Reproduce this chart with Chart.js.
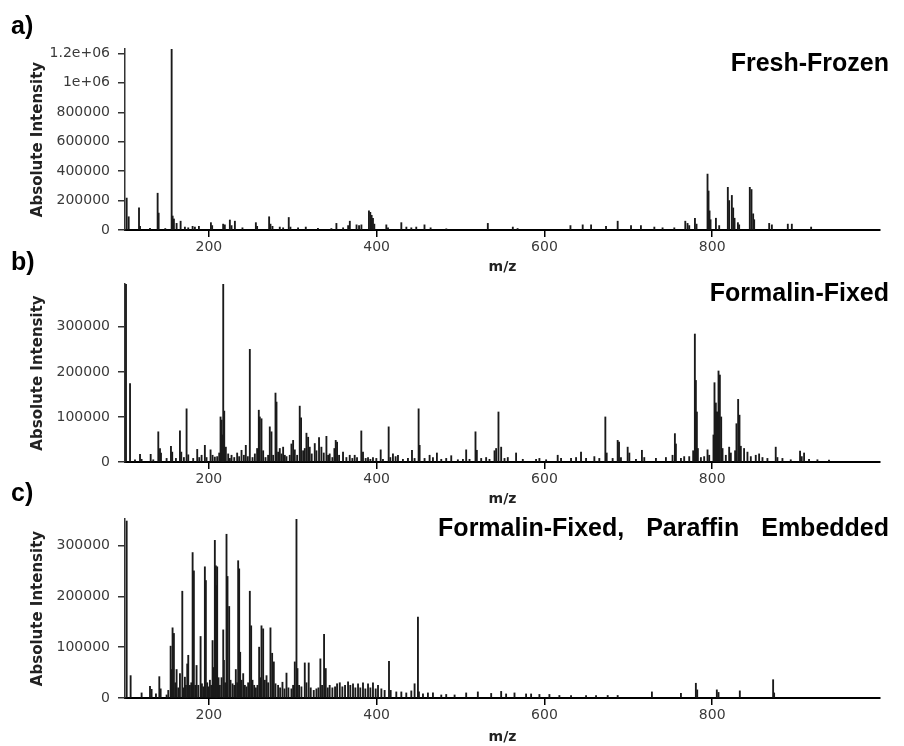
<!DOCTYPE html>
<html>
<head>
<meta charset="utf-8">
<script src="https://cdn.jsdelivr.net/npm/chart.js@4.4.1/dist/chart.umd.min.js"></script>
<style>
  body { margin: 0; background: #fff; }
  #wrap { position: relative; width: 904px; height: 746px; overflow: hidden; }
  canvas { position: absolute; left: 0; }
</style>
</head>
<body>
<div id="wrap">
  <canvas id="chartA" width="904" height="280" style="top:0px"></canvas>
  <canvas id="chartB" width="904" height="260" style="top:250px"></canvas>
  <canvas id="chartC" width="904" height="266" style="top:480px"></canvas>
</div>
<script>
// x axis ticks (m/z)
const xTicks = [200, 400, 600, 800];

// a) Fresh-Frozen
const mzA = [
  102, 104.4, 116.7, 117.9, 129.8, 138.9, 140.1, 148, 155.6, 156.8,
  158.3, 161.5, 166.3, 171.4, 175.4, 180.6, 183.3, 188.1, 202.4, 203.9,
  217, 219, 225, 227, 231, 240, 256, 257.5, 271.8, 273.4,
  275.8, 284.5, 288.5, 295.2, 297.2, 306.3, 315.5, 330, 346, 352,
  360, 366, 368, 376, 379, 381.8, 390.8, 392.4, 394, 395.6,
  397.2, 411.5, 413.5, 429.4, 435.4, 441.3, 447.2, 457, 464.3, 483,
  532.5, 562.3, 568, 631, 645.6, 655.6, 673.4, 687.3, 703.2, 715,
  731, 740.8, 754.8, 767.9, 770.6, 772.6, 779.4, 781.3, 794.4, 795.6,
  796.8, 798, 804.4, 808.3, 818.6, 820.2, 823.4, 825, 826.6, 830.6,
  832.1, 844.8, 846.8, 848.8, 850, 867.9, 871.1, 890.1, 894.9, 917.9
];
const intA = [
  217000, 90000, 150000, 25000, 12000, 250000, 115000, 10000, 1230000, 95000,
  75000, 45000, 60000, 20000, 15000, 25000, 20000, 25000, 50000, 30000,
  40000, 35000, 68000, 30000, 60000, 15000, 50000, 25000, 90000, 40000,
  25000, 20000, 15000, 85000, 20000, 15000, 20000, 12000, 10000, 45000,
  15000, 30000, 60000, 35000, 30000, 35000, 130000, 120000, 100000, 80000,
  40000, 35000, 15000, 50000, 20000, 15000, 20000, 35000, 15000, 8000,
  45000, 20000, 10000, 30000, 35000, 35000, 25000, 60000, 30000, 30000,
  20000, 15000, 15000, 60000, 45000, 30000, 80000, 40000, 380000, 265000,
  130000, 70000, 80000, 30000, 290000, 200000, 235000, 150000, 80000, 50000,
  35000, 290000, 275000, 110000, 70000, 45000, 35000, 40000, 40000, 20000
];
const yTicksA = [0, 200000, 400000, 600000, 800000, 1000000, 1200000];
const yLabelsA = ['0', '200000', '400000', '600000', '800000', '1e+06', '1.2e+06'];

// b) Formalin-Fixed
const mzB = [
  101.2, 106, 111.9, 117.9, 119.8, 130.6, 133.7, 139.7, 141.7, 142.9,
  149.6, 154.8, 156.3, 160.7, 165.5, 167.1, 170.2, 173.4, 175.4, 181.3,
  186.1, 188.5, 191.3, 195.2, 197.2, 202, 204.4, 207.1, 209.9, 212.3,
  213.9, 215.1, 216.3, 217.1, 218.3, 220.2, 223, 225, 227, 230.2,
  233.7, 236.1, 238.9, 241.7, 244, 246.4, 248.8, 252, 254.8, 257.5,
  259.5, 260.7, 262.7, 264.7, 267.5, 270.6, 272.6, 274.6, 276.6, 279.4,
  280.6, 282.5, 284.5, 286.5, 288.5, 290.5, 292.5, 296.4, 298.4, 300.4,
  302.4, 305.2, 308.3, 309.9, 312.3, 314.3, 316.3, 318.3, 320.2, 322.6,
  326.2, 328.2, 331.3, 334.1, 336.9, 340.1, 342.1, 344, 347.2, 349.6,
  351.2, 352.8, 355.2, 359.9, 363.9, 367.9, 371, 373.8, 376.6, 381.7,
  383.7, 386.9, 389.7, 392.5, 395.6, 399.6, 404.8, 407.5, 414.3, 416.3,
  419.4, 422.6, 425.4, 431.3, 437.3, 442.1, 445.2, 450, 451.2, 457.1,
  463.1, 467.1, 471.8, 477, 482.9, 488.9, 496.8, 502.8, 506.7, 510.7,
  517.8, 519.4, 524.6, 530.5, 534.5, 540.5, 542.4, 545.2, 548.4, 552.4,
  556.3, 566.2, 574.2, 590, 594, 602, 615.8, 619.8, 631.7, 637.7,
  643.6, 649.6, 659.5, 665.4, 672.6, 674.2, 681.3, 687.3, 688.9, 691.2,
  699.2, 701.2, 709.1, 716.2, 719, 732.9, 744.8, 752.7, 755.5, 756.7,
  762.7, 766.6, 772.6, 777.3, 779.3, 780.5, 781.7, 782.9, 786.5, 790.4,
  794.4, 796.4, 801.5, 802.7, 804.3, 805.1, 806.3, 807.5, 809.1, 810.7,
  812.3, 816.2, 820.2, 822.2, 827.3, 828.9, 830.9, 832.5, 834.1, 838,
  842, 846, 851.9, 855.9, 859.9, 865.8, 875.7, 877.7, 883.7, 893.6,
  904.7, 906.7, 909.5, 915.4, 925.4, 939.2
];
const intB = [
  395000, 174000, 5000, 17000, 6000, 17000, 5000, 67000, 30000, 20000,
  8000, 35000, 22000, 8000, 69000, 22000, 10000, 118000, 16000, 8000,
  28000, 10000, 15000, 37000, 10000, 27000, 15000, 11000, 12000, 20000,
  100000, 93000, 60000, 395000, 113000, 33000, 18000, 8000, 15000, 10000,
  20000, 12000, 26000, 15000, 37000, 12000, 250000, 10000, 18000, 30000,
  115000, 100000, 96000, 25000, 10000, 15000, 78000, 67000, 15000, 153000,
  133000, 22000, 30000, 18000, 33000, 15000, 12000, 15000, 40000, 48000,
  27000, 15000, 124000, 98000, 25000, 30000, 64000, 55000, 33000, 18000,
  41000, 25000, 54000, 33000, 20000, 57000, 15000, 18000, 10000, 30000,
  48000, 44000, 15000, 22000, 10000, 15000, 8000, 15000, 10000, 69000,
  22000, 8000, 10000, 6000, 10000, 8000, 27000, 6000, 78000, 10000,
  18000, 12000, 15000, 6000, 8000, 26000, 8000, 118000, 37000, 8000,
  15000, 10000, 20000, 6000, 8000, 14000, 5000, 6000, 27000, 6000,
  67000, 26000, 8000, 10000, 6000, 25000, 30000, 111000, 33000, 8000,
  10000, 20000, 6000, 6000, 8000, 5000, 15000, 8000, 8000, 10000,
  22000, 8000, 12000, 8000, 100000, 20000, 8000, 48000, 44000, 10000,
  33000, 20000, 6000, 26000, 10000, 8000, 10000, 15000, 63000, 40000,
  8000, 12000, 12000, 25000, 284000, 181000, 111000, 30000, 10000, 12000,
  27000, 15000, 60000, 176000, 131000, 111000, 111000, 202000, 193000, 100000,
  30000, 15000, 33000, 20000, 25000, 85000, 139000, 104000, 35000, 30000,
  22000, 12000, 15000, 18000, 10000, 8000, 33000, 10000, 8000, 5000,
  24000, 12000, 20000, 6000, 5000, 4000
];
const yTicksB = [0, 100000, 200000, 300000];
const yLabelsB = ['0', '100000', '200000', '300000'];

// c) Formalin-Fixed, Paraffin Embedded
const mzC = [
  102, 106.7, 119.8, 129.8, 131.7, 136.9, 140.9, 142.5, 149.6, 151.6,
  154.4, 155.6, 156.7, 158.3, 159.9, 161.5, 163.5, 165.5, 168.3, 169.8,
  171.4, 172.6, 174.2, 175.4, 177.4, 179, 180.6, 182.1, 183.7, 185.3,
  187.3, 190.1, 191.7, 193.3, 195.2, 196.4, 198, 199.6, 201.2, 202.8,
  204.4, 205.6, 207.1, 208.3, 209.1, 209.9, 211.5, 213.1, 215.1, 217.1,
  217.9, 219.4, 221, 222.2, 224.2, 225.8, 228.2, 230.2, 232.1, 233.7,
  234.9, 236.1, 237.3, 238.9, 240.9, 242.9, 244.8, 246.8, 248.8, 250.4,
  252, 254, 256, 257.9, 259.9, 261.1, 262.7, 264.7, 266.7, 268.7,
  270.6, 273.4, 275.4, 277.4, 279.4, 282.5, 284.9, 287.7, 290.1, 292.5,
  294.8, 298.4, 300.4, 302.4, 304.4, 305.6, 307.5, 310.3, 314.3, 316.3,
  319, 321.4, 325, 328.2, 330.6, 332.9, 334.9, 337.3, 339.3, 341.7,
  344, 347.2, 350.4, 352.8, 356, 359.1, 362.3, 365.9, 368.6, 371.8,
  374.6, 377.8, 380.5, 383.7, 386.5, 389.7, 392.5, 395.6, 398.8, 401.6,
  405.6, 409.5, 414.7, 416.7, 423.4, 429.4, 435.3, 441.3, 445.2, 449.2,
  450.4, 455.2, 461.1, 467.1, 477, 482.9, 492.9, 506.7, 520.6, 536.5,
  548.4, 554.3, 564.3, 578.1, 584.1, 594, 605.9, 617.8, 631.7, 649.6,
  661.5, 675.4, 687.3, 728.1, 762.7, 780.5, 782.1, 805.5, 807.5, 832.9,
  872.6, 873.8
];
const intC = [
  348000, 44000, 10000, 23000, 17000, 8000, 42000, 18000, 6000, 15000,
  102000, 56000, 138000, 127000, 30000, 56000, 20000, 48000, 210000, 20000,
  41000, 25000, 67000, 84000, 25000, 30000, 286000, 250000, 25000, 64000,
  25000, 121000, 28000, 22000, 258000, 231000, 30000, 22000, 35000, 25000,
  113000, 60000, 310000, 260000, 221000, 258000, 40000, 25000, 40000, 134000,
  74000, 30000, 322000, 239000, 180000, 35000, 28000, 25000, 56000, 30000,
  270000, 254000, 90000, 35000, 48000, 25000, 22000, 30000, 210000, 142000,
  35000, 25000, 20000, 25000, 100000, 40000, 142000, 136000, 35000, 44000,
  30000, 138000, 88000, 71000, 28000, 25000, 20000, 31000, 18000, 49000,
  20000, 18000, 25000, 71000, 352000, 58000, 25000, 22000, 69000, 30000,
  69000, 20000, 15000, 18000, 20000, 77000, 25000, 125000, 58000, 20000,
  25000, 20000, 22000, 28000, 30000, 22000, 25000, 32000, 25000, 28000,
  20000, 28000, 20000, 30000, 18000, 28000, 20000, 30000, 18000, 25000,
  18000, 15000, 72000, 15000, 12000, 12000, 10000, 14000, 28000, 159000,
  12000, 8000, 10000, 10000, 6000, 7000, 6000, 10000, 12000, 9000,
  13000, 8000, 10000, 8000, 8000, 7000, 7000, 5000, 5000, 5000,
  5000, 5000, 5000, 12000, 9000, 29000, 16000, 16000, 11000, 14000,
  36000, 10000
];
const yTicksC = [0, 100000, 200000, 300000];
const yLabelsC = ['0', '100000', '200000', '300000'];

// panel letter + title drawn on top of the plot
const panelText = {
  id: 'panelText',
  afterDraw(chart, args, opts) {
    const c = chart.ctx;
    c.save();
    c.fillStyle = '#000';
    c.textBaseline = 'middle';
    c.font = 'bold 25px "Liberation Sans", Arial, sans-serif';
    c.textAlign = 'left';
    c.fillText(opts.letter, 11, opts.letterY);
    c.textAlign = 'right';
    if ('wordSpacing' in c) c.wordSpacing = opts.wordGap || '0px';
    c.fillText(opts.title, 889, opts.titleY);
    c.restore();
  }
};

function makeSpectrum(id, mz, inten, yMax, yTicks, yLabels, p) {
  const pts = mz.map((x, i) => ({ x: x, y: inten[i] }));
  const tickFont = { family: 'DejaVu Sans', size: 14 };
  return new Chart(document.getElementById(id), {
    type: 'bar',
    data: {
      datasets: [{
        data: pts,
        backgroundColor: '#1a1a1a',
        borderWidth: 0,
        barThickness: 1.2,
        grouped: false
      }]
    },
    plugins: [panelText],
    options: {
      responsive: false,
      animation: false,
      events: [],
      layout: { padding: { left: 0, right: 24, top: p.top, bottom: 0 } },
      plugins: {
        legend: { display: false },
        tooltip: { enabled: false },
        panelText: { letter: p.letter, letterY: p.letterY, title: p.title, titleY: p.titleY, wordGap: p.wordGap }
      },
      scales: {
        x: {
          type: 'linear',
          min: 100,
          max: 1000,
          offset: false,
          afterBuildTicks: (s) => { s.ticks = xTicks.map(v => ({ value: v })); },
          afterFit: (s) => { s.height = p.xh; s.paddingLeft = 0; s.paddingRight = 0; },
          grid: { offset: false, drawOnChartArea: false, drawTicks: true, tickLength: 7, color: '#000', lineWidth: 1.5 },
          border: { display: true, color: '#000', width: 2 },
          ticks: { color: '#3a3a3a', font: tickFont, padding: 2, maxRotation: 0 },
          title: {
            display: true, text: 'm/z', color: '#222',
            font: { family: 'DejaVu Sans', size: 14, weight: 'bold' },
            padding: { top: 0, bottom: p.mzPad }
          }
        },
        y: {
          min: 0,
          max: yMax,
          afterBuildTicks: (s) => { s.ticks = yTicks.map(v => ({ value: v })); },
          afterFit: (s) => { s.width = 125; s.paddingTop = 0; s.paddingBottom = 0; },
          grid: { offset: false, drawOnChartArea: false, drawTicks: true, tickLength: 7, color: '#333', lineWidth: 1.5 },
          border: { display: true, color: '#333', width: 1.5 },
          ticks: { color: '#3a3a3a', font: tickFont, padding: 8, callback: (v, i) => yLabels[i] },
          title: {
            display: true, text: 'Absolute Intensity', color: '#222',
            font: { family: 'DejaVu Sans', size: 15, weight: 'bold' },
            padding: { top: 29, bottom: 0 }
          }
        }
      }
    }
  });
}

makeSpectrum('chartA', mzA, intA, 1230000, yTicksA, yLabelsA,
  { top: 49, xh: 50, mzPad: 4, letter: 'a)', letterY: 27, title: 'Fresh-Frozen', titleY: 64 });
makeSpectrum('chartB', mzB, intB, 395000, yTicksB, yLabelsB,
  { top: 34, xh: 48, mzPad: 2, letter: 'b)', letterY: 13, title: 'Formalin-Fixed', titleY: 44 });
makeSpectrum('chartC', mzC, intC, 352000, yTicksC, yLabelsC,
  { top: 39, xh: 48, mzPad: 0, letter: 'c)', letterY: 14, title: 'Formalin-Fixed, Paraffin Embedded', titleY: 49, wordGap: '15px' });
</script>
</body>
</html>
